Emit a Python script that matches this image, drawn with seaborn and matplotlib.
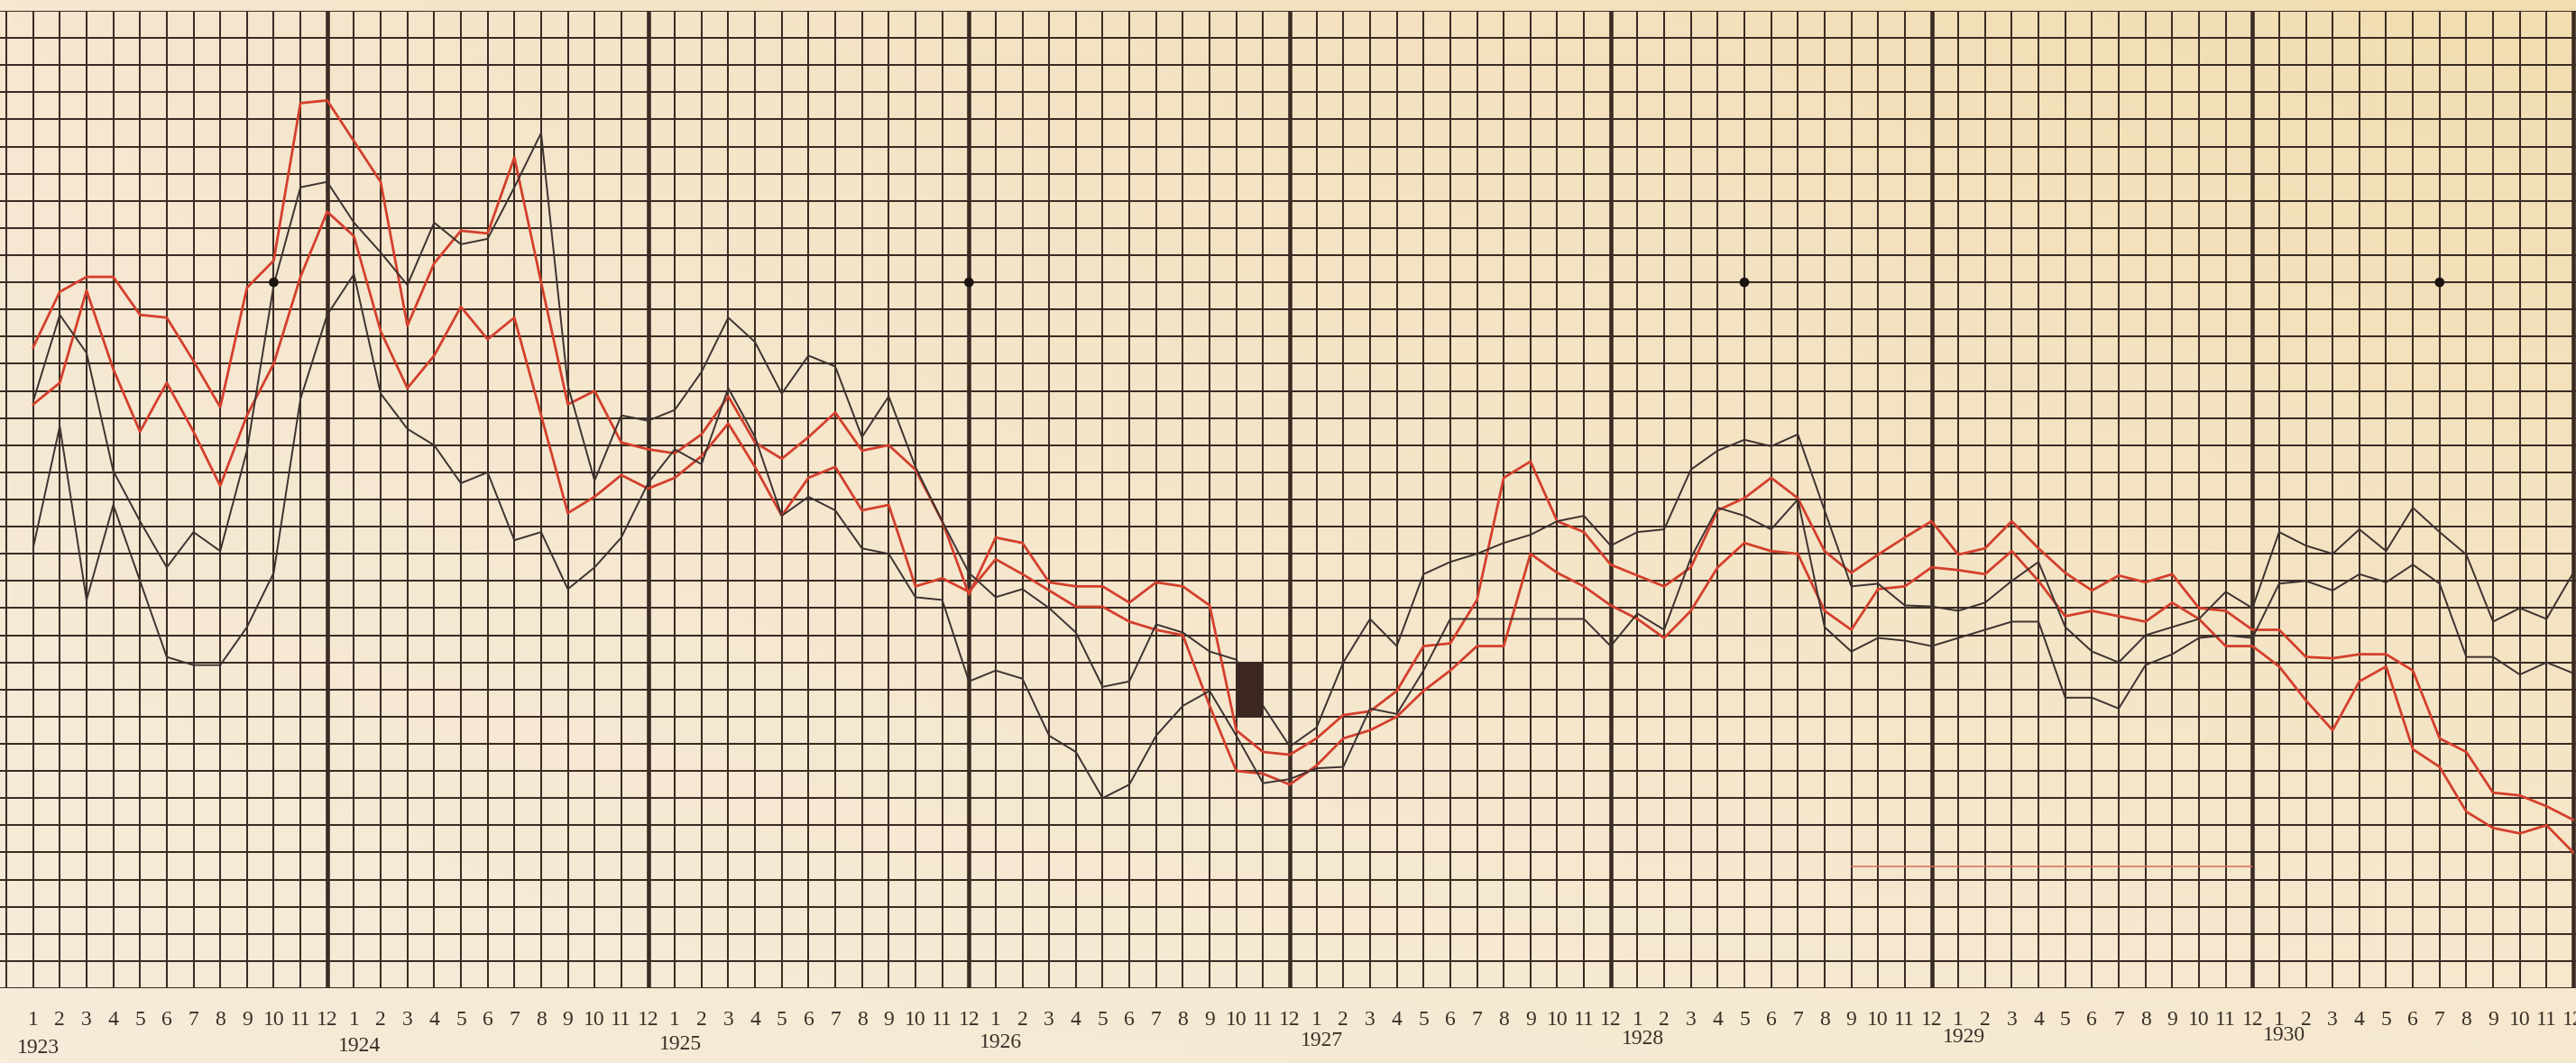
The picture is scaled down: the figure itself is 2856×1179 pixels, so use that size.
import numpy as np
import pandas as pd
import matplotlib
matplotlib.use("Agg")
import matplotlib.pyplot as plt
import matplotlib.transforms as mtransforms
import seaborn as sns

sns.set_style("white")
plt.rcParams["font.family"] = ["Liberation Serif", "DejaVu Serif"]

# ---------------------------------------------------------
# Data: monthly readings, Jan 1923 (month 1) .. Dec 1930 (month 96),
# measured in grid squares from the bottom line.
# ---------------------------------------------------------
months = np.arange(1, 97)
month_labels = [str(m) for m in range(1, 13)] * 8
years = [1923, 1924, 1925, 1926, 1927, 1928, 1929, 1930]

red_upper = [
    23.6, 25.65, 26.2, 26.2, 24.8, 24.7, 23.1, 21.4, 25.8, 26.8, 32.6, 32.7,
    31.2, 29.7, 24.4, 26.7, 27.9, 27.8, 30.6, 26.0, 21.5, 22.0, 20.1, 19.85,
    19.7, 20.4, 21.8, 20.1, 19.5, 20.3, 21.2, 19.8, 20.0, 19.1, 17.2, 14.5,
    16.6, 16.4, 14.95, 14.8, 14.8, 14.2, 14.95, 14.8, 14.1, 9.5, 8.7, 8.6,
    9.2, 10.06, 10.2, 10.95, 12.6, 12.7, 14.3, 18.8, 19.4, 17.2, 16.8, 15.6,
    15.2, 14.8, 15.5, 17.6, 18.05, 18.8, 18.05, 16.1, 15.3, 15.97, 16.6, 17.2,
    15.97, 16.2, 17.2, 16.2, 15.3, 14.65, 15.2, 14.95, 15.25, 14.0, 13.9, 13.2,
    13.2, 12.2, 12.15, 12.3, 12.3, 11.7, 9.2, 8.7, 7.2, 7.1, 6.7, 6.2,
]
red_lower = [
    21.5, 22.3, 25.7, 22.8, 20.5, 22.3, 20.5, 18.5, 21.1, 23.0, 26.2, 28.6,
    27.7, 24.2, 22.1, 23.3, 25.1, 23.9, 24.7, 21.1, 17.5, 18.1, 18.9, 18.4,
    18.8, 19.6, 20.8, 19.2, 17.4, 18.8, 19.2, 17.6, 17.8, 14.8, 15.1, 14.6,
    15.8, 15.25, 14.65, 14.05, 14.05, 13.5, 13.2, 13.0, 10.4, 8.0, 7.9, 7.5,
    8.2, 9.2, 9.5, 10.0, 10.95, 11.7, 12.6, 12.6, 16.0, 15.3, 14.8, 14.1,
    13.6, 12.9, 13.9, 15.5, 16.4, 16.1, 16.0, 13.9, 13.2, 14.7, 14.8, 15.5,
    15.4, 15.25, 16.1, 15.0, 13.7, 13.9, 13.7, 13.5, 14.2, 13.6, 12.6, 12.6,
    11.85, 10.6, 9.5, 11.3, 11.85, 8.8, 8.15, 6.5, 5.9, 5.7, 6.0, 5.0,
]
black_upper = [
    21.6, 24.8, 23.4, 19.05, 17.2, 15.5, 16.8, 16.1, 19.8, 25.9, 29.5, 29.7,
    28.2, 27.1, 25.9, 28.2, 27.4, 27.6, 29.5, 31.5, 22.2, 18.7, 21.1, 20.9,
    21.3, 22.7, 24.7, 23.8, 21.9, 23.3, 22.9, 20.3, 21.8, 19.2, 17.2, 15.3,
    14.4, 14.7, 14.0, 13.1, 11.1, 11.3, 13.4, 13.1, 12.4, 12.1, 10.4, 8.9,
    9.6, 12.0, 13.6, 12.6, 15.25, 15.7, 16.0, 16.4, 16.7, 17.2, 17.4, 16.3,
    16.8, 16.9, 19.1, 19.8, 20.2, 19.96, 20.4, 17.6, 14.8, 14.9, 14.1, 14.06,
    13.9, 14.2, 15.0, 15.7, 13.3, 12.4, 12.0, 13.0, 13.3, 13.6, 14.6, 14.0,
    16.8, 16.3, 16.0, 16.9, 16.1, 17.7, 16.8, 15.97, 13.5, 14.0, 13.6, 15.3,
]
black_lower = [
    16.2, 20.7, 14.3, 17.8, 15.0, 12.2, 11.9, 11.9, 13.3, 15.3, 21.7, 24.8,
    26.3, 21.9, 20.6, 20.0, 18.6, 19.0, 16.5, 16.8, 14.7, 15.5, 16.6, 18.6,
    19.85, 19.3, 22.1, 20.3, 17.4, 18.1, 17.6, 16.2, 16.0, 14.4, 14.3, 11.3,
    11.7, 11.4, 9.3, 8.7, 7.0, 7.5, 9.3, 10.4, 10.95, 9.3, 7.55, 7.7,
    8.1, 8.15, 10.3, 10.1, 11.7, 13.6, 13.6, 13.6, 13.6, 13.6, 13.6, 12.6,
    13.8, 13.2, 15.85, 17.7, 17.4, 16.9, 18.0, 13.3, 12.4, 12.9, 12.8, 12.6,
    12.9, 13.2, 13.5, 13.5, 10.7, 10.7, 10.3, 11.9, 12.3, 12.9, 13.0, 12.9,
    14.9, 15.0, 14.65, 15.25, 14.95, 15.6, 14.9, 12.2, 12.2, 11.55, 12.0, 11.6,
]

# reference dots, the dark block and the faint red rule drawn on the sheet
dot_months = [10, 36, 65, 91]
dot_levels = [26, 26, 26, 26]
block_months = [46, 47]
block_low = 10
block_high = 12
rule_months = [69, 84]
rule_levels = [4.5, 4.5]

df = pd.DataFrame({
    "month": np.tile(months, 4),
    "value": red_upper + red_lower + black_upper + black_lower,
    "series": (["red_upper"] * 96 + ["red_lower"] * 96
               + ["black_upper"] * 96 + ["black_lower"] * 96),
})

# ---------------------------------------------------------
# Figure: old graph paper look
# ---------------------------------------------------------
W, H = 2856, 1179
fig = plt.figure(figsize=(W / 100, H / 100), dpi=100)

# paper tint, a little yellower toward the top right
bg = fig.add_axes([0, 0, 1, 1], zorder=-5)
gx, gy = np.meshgrid(np.linspace(0, 1, 200), np.linspace(0, 1, 100))
c00 = np.array([247, 235, 217]) / 255  # bottom left
c01 = np.array([245, 231, 208]) / 255  # top left
c10 = np.array([246, 233, 208]) / 255  # bottom right
c11 = np.array([242, 221, 177]) / 255  # top right
img = ((1 - gx)[..., None] * ((1 - gy)[..., None] * c00 + gy[..., None] * c01)
       + gx[..., None] * ((1 - gy)[..., None] * c10 + gy[..., None] * c11))
bg.imshow(img, origin="lower", aspect="auto", extent=[0, 1, 0, 1])
bg.axis("off")

GRID = "#3a2c24"
TEXT = "#3a2e27"
RED = "#d43f2c"
BLACK = "#3b3230"

top_px, bot_px = 12, 1096
ax = fig.add_axes([0, 1 - bot_px / H, 1, (bot_px - top_px) / H])
ax.set_facecolor("none")
month_px = (2853 - 7) / 96
ax.set_xlim(-7 / month_px, 96 + 3 / month_px)
ax.set_ylim(0, 36)

ax.set_xticks(np.arange(0, 97))
ax.set_yticks(np.arange(0, 37))
ax.set_xticklabels([])
ax.set_yticklabels([])
ax.tick_params(length=0)
ax.grid(True, color=GRID, linewidth=1.45)
ax.set_axisbelow(True)
for s in ax.spines.values():
    s.set_visible(False)
for yr_end in range(12, 97, 12):
    ax.axvline(yr_end, color=GRID, linewidth=3.3, zorder=1)

styles = {
    "red_upper": (RED, 2.0),
    "red_lower": (RED, 2.0),
    "black_upper": (BLACK, 1.4),
    "black_lower": (BLACK, 1.4),
}
for name, (col, lw) in styles.items():
    sub = df[df["series"] == name]
    sns.lineplot(data=sub, x="month", y="value", color=col, linewidth=lw,
                 ax=ax, zorder=3, legend=False)

sns.lineplot(x=rule_months, y=rule_levels, color="#dc6a55", linewidth=1.1,
             ax=ax, zorder=2, legend=False)
ax.fill_between(block_months, block_low, block_high, color="#3b2621", zorder=4,
                linewidth=0)
sns.scatterplot(x=dot_months, y=dot_levels, color="#1c1411", s=60,
                edgecolor="none", ax=ax, zorder=5, legend=False)
ax.set_xlabel("")
ax.set_ylabel("")

# month numbers and years under the sheet
axes_h = bot_px - top_px
trans = mtransforms.blended_transform_factory(ax.transData, ax.transAxes)
for m, lab in zip(months, month_labels):
    ax.text(m, -41 / axes_h, lab, transform=trans, ha="center", va="baseline",
            fontsize=17, color=TEXT, clip_on=False)
for i, yr in enumerate(years):
    m = 12 * i + 1.2
    off = 72 - (m - 1) / 84 * 14
    ax.text(m, -off / axes_h, str(yr), transform=trans, ha="center",
            va="baseline", fontsize=17, color=TEXT, clip_on=False)

fig.savefig("out.png", dpi=100)
